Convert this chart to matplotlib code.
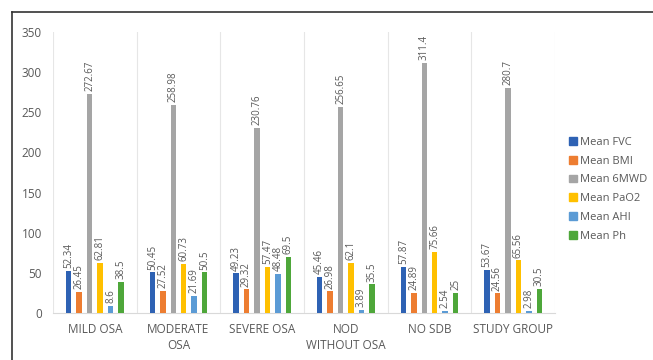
import matplotlib.pyplot as plt
import numpy as np
from matplotlib.lines import Line2D

plt.rcParams['font.family'] = ['Open Sans', 'DejaVu Sans']

# Dane
categories = ["MILD OSA", "MODERATE\nOSA", "SEVERE OSA", "NOD\nWITHOUT OSA", "NO SDB", "STUDY GROUP"]
series_names = ["Mean FVC", "Mean BMI", "Mean 6MWD", "Mean PaO2", "Mean AHI", "Mean Ph"]
fvc = [52.34, 50.45, 49.23, 45.46, 57.87, 53.67]
bmi = [26.45, 27.52, 29.32, 26.98, 24.89, 24.56]
mwd = [272.67, 258.98, 230.76, 256.65, 311.4, 280.7]
pao2 = [62.81, 60.73, 57.47, 62.1, 75.66, 65.56]
ahi = [8.6, 21.69, 48.48, 3.89, 2.54, 2.98]
ph = [38.5, 50.5, 69.5, 35.5, 25, 30.5]
colors = ["#2E62B4", "#ED7D31", "#A5A5A5", "#FFC000", "#5B9BD5", "#4EA73A"]

series = [fvc, bmi, mwd, pao2, ahi, ph]

fig = plt.figure(figsize=(6.53, 3.6), dpi=100)
ax = fig.add_axes([53 / 653, 1 - 313 / 360, 502 / 653, 281 / 360])

x = np.arange(len(categories))
step = 0.125
width = 0.066
text_col = "#595959"

for i, (vals, name, col) in enumerate(zip(series, series_names, colors)):
    pos = x + (i - 2.5) * step
    ax.bar(pos, vals, width=width, color=col, label=name, zorder=3)
    for p, v in zip(pos, vals):
        ax.annotate(f"{v:g}", (p, v), xytext=(0, 2), textcoords="offset points",
                    rotation=90, ha="center", va="bottom", fontsize=7, color=text_col)

ax.set_xlim(-0.5, len(categories) - 0.5)
ax.set_ylim(0, 350)
ax.set_yticks(range(0, 351, 50))
ax.set_xticks(x)
ax.set_xticklabels(categories, fontsize=8.5, color=text_col, linespacing=1.3)
ax.tick_params(axis="y", labelsize=8.5, labelcolor=text_col, length=0, pad=8)
ax.tick_params(axis="x", length=0, pad=7)

# pionowe linie między kategoriami
for b in np.arange(-0.5, len(categories), 1):
    ax.axvline(b, color="#E6E6E6", linewidth=0.8, zorder=1)

for s in ["top", "right", "left"]:
    ax.spines[s].set_visible(False)
ax.spines["bottom"].set_color("#D9D9D9")

handles = [plt.Rectangle((0, 0), 1, 1, color=c) for c in colors]
fig.legend(handles, series_names, loc="upper left", bbox_to_anchor=(561 / 653, 1 - 129 / 360),
           frameon=False, fontsize=8, handlelength=0.7, handleheight=0.7,
           handletextpad=0.3, labelspacing=0.7, labelcolor=text_col, borderpad=0.2)

# ramka obrazka
fig.add_artist(Line2D([12 / 653, 12 / 653], [0, 1 - 12 / 360], color="#333333", linewidth=1.2))
fig.add_artist(Line2D([12 / 653, 1], [1 - 12 / 360, 1 - 12 / 360], color="#333333", linewidth=1.2))

fig.savefig("out.png", dpi=100)
